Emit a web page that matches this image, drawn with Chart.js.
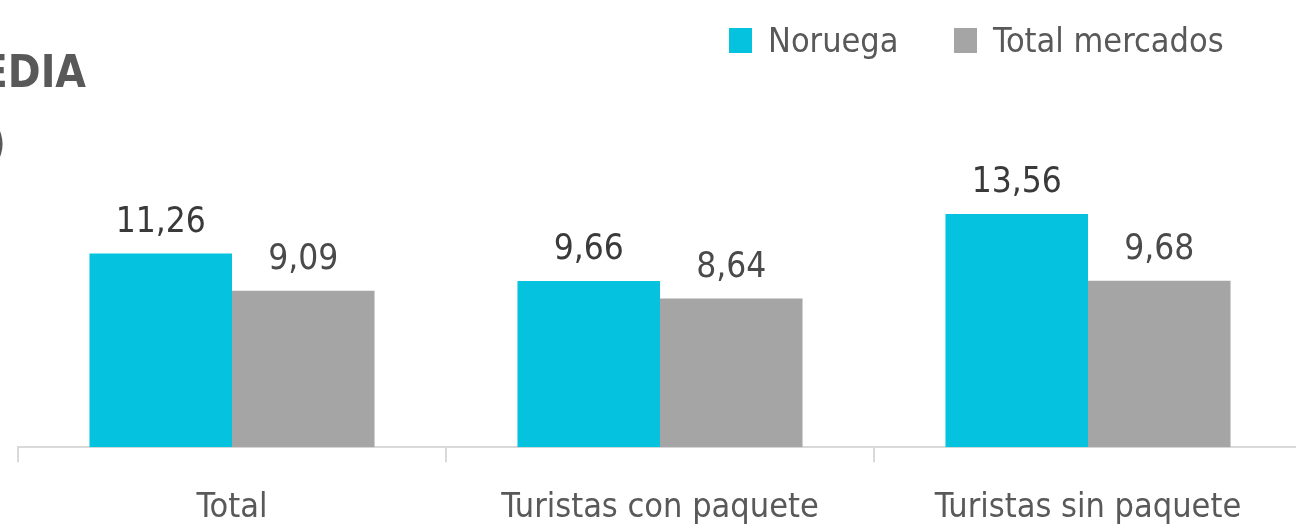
<!DOCTYPE html>
<html><head><meta charset="utf-8">
<script src="https://cdn.jsdelivr.net/npm/chart.js@4/dist/chart.umd.min.js"></script>
<style>
html,body{margin:0;padding:0;width:1296px;height:531px;overflow:hidden;background:#fff;}
#wrap{position:absolute;left:0;top:0;width:1306px;height:558px;}
.title{position:absolute;font-family:"DejaVu Sans Condensed","DejaVu Sans",sans-serif;font-stretch:condensed;font-weight:bold;color:#595959;font-size:44px;white-space:nowrap;line-height:1;text-align:right;}
.item{position:absolute;top:20px;display:flex;align-items:center;font-family:"DejaVu Sans Condensed","DejaVu Sans",sans-serif;font-stretch:condensed;font-size:34px;color:#595959;white-space:nowrap;}
.item .box{width:23px;height:25px;margin-right:16px;}
</style></head>
<body>
<div id="wrap"><canvas id="c" width="1306" height="558"></canvas></div>
<div class="title" style="top:50px;right:1210px;">ESTANCIA MEDIA</div>
<div class="title" style="top:121px;right:1290px;font-weight:normal;">(días)</div>
<div id="legend"></div>
<script>
const categories = ["Total", "Turistas con paquete", "Turistas sin paquete"];
const seriesNames = ["Noruega", "Total mercados"];
const noruega = [11.26, 9.66, 13.56];
const totalMercados = [9.09, 8.64, 9.68];
const colors = ["#05C3DE", "#A5A5A5"];
const labelColors = ["#3A3A3A", "#4A4A4A"];
const FONT = '"DejaVu Sans Condensed","DejaVu Sans",sans-serif';

const leg = document.getElementById('legend');
const legendLeft = [729, 954];
seriesNames.forEach((n,i)=>{
  const it=document.createElement('div');it.className='item';it.style.left=legendLeft[i]+'px';
  const b=document.createElement('div');b.className='box';b.style.background=colors[i];
  const t=document.createElement('span');t.textContent=n;
  it.appendChild(b);it.appendChild(t);leg.appendChild(it);
});

const valueLabels = {
  id:'valueLabels',
  afterDatasetsDraw(chart){
    const ctx=chart.ctx;
    ctx.save();
    ctx.textAlign='center';ctx.textBaseline='alphabetic';
    chart.data.datasets.forEach((ds,di)=>{
      const meta=chart.getDatasetMeta(di);
      ctx.font='35px '+FONT;
      ctx.fillStyle=labelColors[di];
      meta.data.forEach((bar,i)=>{
        ctx.fillText(ds.data[i].toFixed(2).replace('.',','), bar.x, bar.y-22);
      });
    });
    ctx.restore();
  }
};

new Chart(document.getElementById('c'),{
  type:'bar',
  data:{labels:categories,datasets:[
    {label:seriesNames[0],data:noruega,backgroundColor:colors[0]},
    {label:seriesNames[1],data:totalMercados,backgroundColor:colors[1]}
  ]},
  options:{
    responsive:false,animation:false,
    layout:{padding:{left:18,right:4,top:172,bottom:3}},
    datasets:{bar:{categoryPercentage:0.666,barPercentage:1}},
    plugins:{legend:{display:false},tooltip:{enabled:false},title:{display:false}},
    scales:{
      y:{display:false,min:0,max:16},
      x:{
        grid:{offset:true,drawOnChartArea:false,color:'#D9D9D9',tickLength:15,lineWidth:2},
        border:{color:'#D9D9D9',width:2},
        ticks:{color:'#595959',font:{family:FONT,size:34},padding:26,maxRotation:0}
      }
    }
  },
  plugins:[valueLabels]
});
</script>
</body></html>
